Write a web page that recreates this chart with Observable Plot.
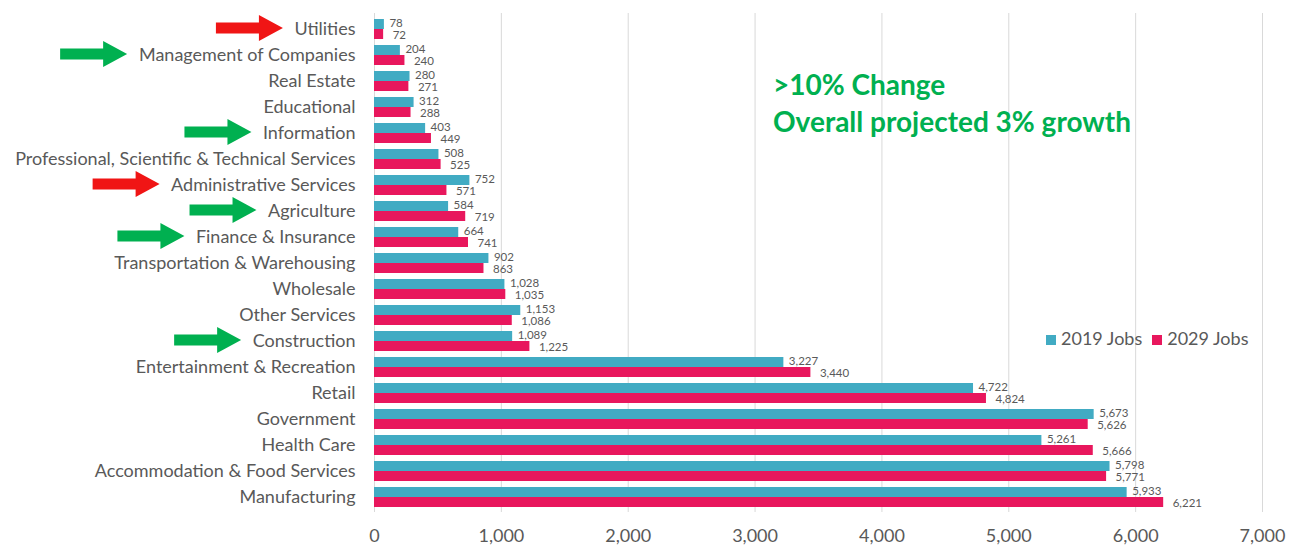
<!DOCTYPE html>
<html>
<head>
<meta charset="utf-8">
<script src="https://cdn.jsdelivr.net/npm/d3@7"></script>
<script src="https://cdn.jsdelivr.net/npm/@observablehq/plot@0.6"></script>
<style>
  html, body { margin: 0; padding: 0; background: #fff; }
  #wrap { position: relative; width: 1296px; height: 548px; font-family: Lato, "Open Sans", sans-serif; }
  #note { position: absolute; left: 773px; top: 66px; color: #00b050; font-weight: 700; font-size: 28px; line-height: 37px; }
  #legend { position: absolute; left: 1046px; top: 327px; color: #595959; font-size: 18px; display: flex; gap: 10px; align-items: center; }
  #legend span.sw { display: inline-block; width: 10px; height: 10px; margin-right: 5px; }
</style>
</head>
<body>
<div id="wrap"></div>
<script>
const categories = ["Utilities","Management of Companies","Real Estate","Educational","Information","Professional, Scientific & Technical Services","Administrative Services","Agriculture","Finance & Insurance","Transportation & Warehousing","Wholesale","Other Services","Construction","Entertainment & Recreation","Retail","Government","Health Care","Accommodation & Food Services","Manufacturing"];
const jobs2019 = [78,204,280,312,403,508,752,584,664,902,1028,1153,1089,3227,4722,5673,5261,5798,5933];
const jobs2029 = [72,240,271,288,449,525,571,719,741,863,1035,1086,1225,3440,4824,5626,5666,5771,6221];
const seriesNames = ["2019 Jobs","2029 Jobs"];
const xTicks = [0,1000,2000,3000,4000,5000,6000,7000];
const arrowCategories = ["Utilities","Management of Companies","Information","Administrative Services","Agriculture","Finance & Insurance","Construction"];
const arrowKinds = ["down","up","up","down","up","up","up"];
const noteLines = [">10% Change","Overall projected 3% growth"];

const teal = "#41abc3";
const pink = "#e8175d";
const gray = "#595959";

const rows2019 = categories.map((c, i) => ({category: c, value: jobs2019[i]}));
const rows2029 = categories.map((c, i) => ({category: c, value: jobs2029[i]}));

const plot = Plot.plot({
  width: 1296,
  height: 548,
  marginLeft: 374,
  marginRight: 34,
  marginTop: 13,
  marginBottom: 36,
  style: {fontFamily: "Lato, 'Open Sans', sans-serif", fontSize: "18px", color: gray, background: "#fff"},
  x: {domain: [0, 7000], ticks: xTicks, tickFormat: d3.format(","), tickSize: 0, tickPadding: 17, label: null},
  y: {domain: categories, paddingInner: 0.24, paddingOuter: 0.12, tickSize: 0, tickPadding: 19, label: null},
  marks: [
    Plot.ruleX(xTicks, {stroke: "#d9d9d9", strokeWidth: 1}),
    Plot.barX(rows2019, {x: "value", y: "category", fill: teal, insetBottom: 10}),
    Plot.barX(rows2029, {x: "value", y: "category", fill: pink, insetTop: 10}),
    Plot.text(rows2019, {x: "value", y: "category", text: d => d3.format(",")(d.value), dx: 5, dy: -6, textAnchor: "start", fontSize: 11.5, fill: gray}),
    Plot.text(rows2029, {x: "value", y: "category", text: d => d3.format(",")(d.value), dx: 9, dy: 6, textAnchor: "start", fontSize: 11.5, fill: gray})
  ]
});

const wrap = document.getElementById("wrap");
wrap.appendChild(plot);

// Block arrows pointing at highlighted category labels
const yScale = plot.scale("y");
const ctx = document.createElement("canvas").getContext("2d");
ctx.font = "18px Lato";
const svg = d3.select(plot);
const labelRight = 374 - 19;
arrowCategories.forEach((cat, i) => {
  const yc = yScale.apply(cat) + yScale.bandwidth / 2 - 1;
  const w = ctx.measureText(cat).width;
  const tip = labelRight - w - 11;
  const len = 67, head = 24, sh = 5.5, hh = 13;
  const pts = [
    [tip - len, yc - sh], [tip - head, yc - sh], [tip - head, yc - hh], [tip, yc],
    [tip - head, yc + hh], [tip - head, yc + sh], [tip - len, yc + sh]
  ];
  svg.append("path")
    .attr("d", "M" + pts.map(p => p.join(",")).join("L") + "Z")
    .attr("fill", arrowKinds[i] === "down" ? "#f01515" : "#00b050");
});

const note = document.createElement("div");
note.id = "note";
note.innerHTML = noteLines.map(t => `<div>${t.replace(">", "&gt;")}</div>`).join("");
wrap.appendChild(note);

const legend = document.createElement("div");
legend.id = "legend";
legend.innerHTML = seriesNames.map((s, i) => `<div><span class="sw" style="background:${i === 0 ? teal : pink}"></span>${s}</div>`).join("");
wrap.appendChild(legend);
</script>
</body>
</html>
